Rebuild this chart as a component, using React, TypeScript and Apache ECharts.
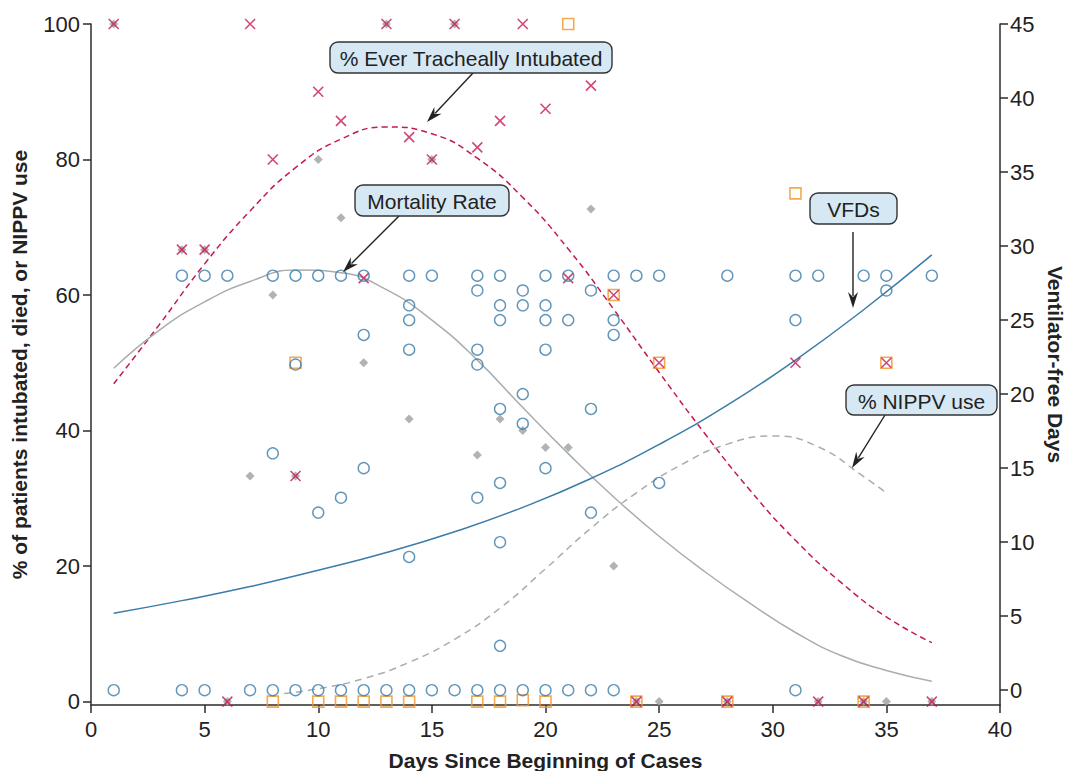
import React, { useEffect, useRef } from "react";
import * as echarts from "echarts";

// ---- data ----
const intubated: number[][] = [
  [1, 100], [4, 66.7], [5, 66.7], [6, 0], [7, 100], [8, 80], [9, 33.3], [10, 90], [11, 85.7],
  [12, 62.5], [13, 100], [14, 83.3], [15, 80], [16, 100], [17, 81.8], [18, 85.7], [19, 100],
  [20, 87.5], [21, 62.5], [22, 90.9], [23, 60], [24, 0], [25, 50], [28, 0], [31, 50], [32, 0],
  [34, 0], [35, 50], [37, 0],
];
const mortality: number[][] = [
  [1, 100], [4, 66.7], [5, 66.7], [6, 0], [7, 33.3], [8, 60], [9, 33.3], [10, 80], [11, 71.4],
  [12, 50], [13, 100], [14, 41.7], [15, 80], [16, 100], [17, 36.4], [18, 41.7], [19, 40],
  [20, 37.5], [21, 37.5], [22, 72.7], [23, 20], [24, 0], [25, 0], [28, 0], [32, 0], [34, 0],
  [35, 0], [37, 0],
];
const nippv: number[][] = [
  [8, 0], [9, 50], [10, 0], [11, 0], [12, 0], [13, 0], [14, 0], [17, 0], [18, 0], [19, 0.2],
  [20, 0], [21, 100], [23, 60], [24, 0], [25, 50], [28, 0], [31, 75], [34, 0], [35, 50],
];
// ventilator-free days of individual patients, by day
const vfdDays: number[] = [1, 4, 5, 6, 7, 8, 9, 10, 11, 12, 13, 14, 15, 16, 17, 18, 19, 20, 21, 22, 23, 24, 25, 28, 31, 32, 34, 35, 37];
const vfdValues: number[][] = [
  [0], [28, 0], [28, 0], [28], [0], [28, 16, 0], [28, 22, 0], [28, 12, 0], [28, 13, 0],
  [28, 24, 15, 0], [0], [28, 26, 25, 23, 9, 0], [28, 0], [0], [28, 27, 23, 22, 13, 0],
  [28, 26, 25, 19, 14, 10, 3, 0], [27, 26, 20, 18, 0], [28, 26, 25, 23, 15, 0], [28, 25, 0],
  [27, 19, 12, 0], [28, 25, 24, 0], [28], [28, 14], [28], [28, 25, 0], [28], [28], [28, 27], [28],
];
// fitted curves
const intubatedFit: number[][] = [
  [1, 46.9], [3, 55.6], [5, 64.6], [7, 72.4], [9, 78.8], [11, 83.0], [13, 84.8], [15, 83.8],
  [17, 80.2], [19, 74.4], [21, 66.8], [23, 57.9], [25, 48.6], [27, 39.6], [29, 31.2], [31, 23.8],
  [33, 17.6], [35, 12.5], [37, 8.7],
];
const mortalityFit: number[][] = [
  [1, 49.2], [3, 54.8], [5, 59.0], [7, 62.0], [9, 63.7], [11, 63.3], [13, 60.8], [15, 56.3],
  [17, 50.4], [19, 43.4], [21, 36.6], [23, 30.2], [25, 24.4], [27, 19.2], [29, 14.5], [31, 10.2],
  [33, 6.8], [35, 4.6], [37, 3.0],
];
const nippvFit: number[][] = [
  [8.5, 1.2], [10, 1.9], [12, 3.4], [14, 5.8], [16, 9.2], [18, 13.8], [20, 19.6], [22, 25.6],
  [24, 30.8], [26, 35.0], [28, 38.0], [30, 39.2], [32, 37.6], [34, 33.2], [35, 30.8],
];
const vfdFit: number[][] = [
  [1, 5.2], [4, 6.05], [7, 7.0], [10, 8.1], [13, 9.3], [16, 10.7], [19, 12.35], [22, 14.3],
  [25, 16.6], [28, 19.25], [31, 22.3], [34, 25.7], [37, 29.4],
];
const leftTicks = [0, 20, 40, 60, 80, 100];
const rightTicks = [0, 5, 10, 15, 20, 25, 30, 35, 40, 45];

const FONT = '"Liberation Sans", Arial, sans-serif';
const CRIMSON = "#c41a50";
const ORANGE = "#f29425";
const BLUE = "#3a7ca7";
const GRAYD = "#9aa0a4";
const GRAYL = "#a9adb0";
const AX = "#2b2b2b";

function callout(x: number, y: number, w: number, h: number, text: string) {
  return {
    type: "group",
    children: [
      { type: "rect", shape: { x, y, width: w, height: h, r: 8 }, style: { fill: "#d6e8f4", stroke: "#333", lineWidth: 1.4 }, z: 100 },
      {
        type: "text", x: x + w / 2, y: y + h / 2 + 1, z: 101,
        style: { text, fill: "#222", font: `21px ${FONT}`, align: "center", verticalAlign: "middle" },
      },
    ],
  };
}

function arrow(x1: number, y1: number, x2: number, y2: number) {
  const dx = x2 - x1, dy = y2 - y1;
  const L = Math.hypot(dx, dy);
  const ux = dx / L, uy = dy / L;
  const hl = 15, hw = 5;
  const bx = x2 - ux * hl, by = y2 - uy * hl;
  return {
    type: "group",
    children: [
      { type: "line", shape: { x1, y1, x2: bx + ux * 3, y2: by + uy * 3 }, style: { stroke: "#222", lineWidth: 1.4 }, z: 100 },
      {
        type: "polygon", z: 100,
        shape: { points: [[x2, y2], [bx - uy * hw - ux, by + ux * hw - uy], [bx + ux * 4, by + uy * 4], [bx + uy * hw - ux, by - ux * hw - uy]] },
        style: { fill: "#222" },
      },
    ],
  };
}

export default function App() {
  const ref = useRef<HTMLDivElement>(null);
  useEffect(() => {
    if (!ref.current) return;
    const chart = echarts.init(ref.current, null, { renderer: "svg" });
    const vfdPoints: number[][] = [];
    vfdDays.forEach((d, i) => vfdValues[i].forEach((v) => vfdPoints.push([d, v])));

    const fitLine = (data: number[][], color: string, dashed: any, yAxisIndex = 0) => ({
      type: "line", data, yAxisIndex, smooth: 0.5, showSymbol: false, symbol: "none", silent: true,
      lineStyle: { color, width: 1.5, type: dashed },
      z: 1,
    });

    const titleStyle = { fontFamily: FONT, fontWeight: "bold", fontSize: 21, color: "#222" };
    chart.setOption({
      animation: false,
      backgroundColor: "#fff",
      grid: { left: 91, right: 68, top: 24, bottom: 66, outerBoundsMode: "none", containLabel: false },
      xAxis: {
        type: "value", min: 0, max: 40, interval: 5,
        name: "Days Since Beginning of Cases", nameLocation: "middle", nameGap: 45,
        nameTextStyle: titleStyle,
        axisLine: { onZero: false, lineStyle: { color: AX, width: 1.5 } },
        axisTick: { length: 8, lineStyle: { color: AX, width: 1.5 } },
        axisLabel: { fontFamily: FONT, fontSize: 22, color: "#222", margin: 13 },
        splitLine: { show: false },
      },
      yAxis: [
        {
          type: "value", min: -0.5, max: 100, position: "left",
          name: "% of patients intubated, died, or NIPPV use", nameLocation: "middle", nameGap: 61,
          nameTextStyle: titleStyle,
          axisLine: { show: true, onZero: false, lineStyle: { color: AX, width: 1.5 } },
          axisTick: { show: true, length: 8, customValues: leftTicks, lineStyle: { color: AX, width: 1.5 } },
          axisLabel: { fontFamily: FONT, fontSize: 22, color: "#222", margin: 11, customValues: leftTicks },
          splitLine: { show: false },
        },
        {
          type: "value", min: -1, max: 45, position: "right",
          name: "Ventilator-free Days", nameLocation: "middle", nameGap: 44, nameRotate: -90,
          nameTextStyle: titleStyle,
          axisLine: { show: true, onZero: false, lineStyle: { color: AX, width: 1.5 } },
          axisTick: { show: true, length: 8, customValues: rightTicks, lineStyle: { color: AX, width: 1.5 } },
          axisLabel: { fontFamily: FONT, fontSize: 22, color: "#222", margin: 10, customValues: rightTicks },
          splitLine: { show: false },
        },
      ],
      series: [
        fitLine(intubatedFit, CRIMSON, [6, 4]),
        fitLine(mortalityFit, GRAYL, "solid"),
        fitLine(nippvFit, GRAYL, [7, 5]),
        fitLine(vfdFit, BLUE, "solid", 1),
        {
          type: "scatter", name: "Mortality", data: mortality, yAxisIndex: 0, symbol: "diamond", symbolSize: 9,
          itemStyle: { color: GRAYD }, z: 2,
        },
        {
          type: "scatter", name: "NIPPV", data: nippv, yAxisIndex: 0, symbol: "rect", symbolSize: 11,
          itemStyle: { color: "rgba(255,255,255,0)", borderColor: ORANGE, borderWidth: 1.6 }, z: 3,
        },
        {
          type: "scatter", name: "Intubated", data: intubated, yAxisIndex: 0,
          symbol: "path://M0,0 L10,10 M10,0 L0,10", symbolSize: 10,
          itemStyle: { color: "rgba(255,255,255,0)", borderColor: CRIMSON, borderWidth: 1.6 }, z: 4,
        },
        {
          type: "scatter", name: "VFD", data: vfdPoints, yAxisIndex: 1, symbol: "circle", symbolSize: 11,
          itemStyle: { color: "rgba(255,255,255,0)", borderColor: BLUE, borderWidth: 1.4 }, z: 5,
        },
      ],
      graphic: [
        arrow(473, 73, 427, 122),
        arrow(399, 216, 343, 272),
        arrow(853, 232, 853, 308),
        arrow(885, 415, 852, 468),
        callout(330, 42, 282, 31, "% Ever Tracheally Intubated"),
        callout(355, 185, 154, 31, "Mortality Rate"),
        callout(810, 193, 87, 31, "VFDs"),
        callout(846, 385, 151, 30, "% NIPPV use"),
      ],
    });
    return () => chart.dispose();
  }, []);
  return <div ref={ref} style={{ width: 1068, height: 771, position: "absolute", left: 0, top: 0 }} />;
}
